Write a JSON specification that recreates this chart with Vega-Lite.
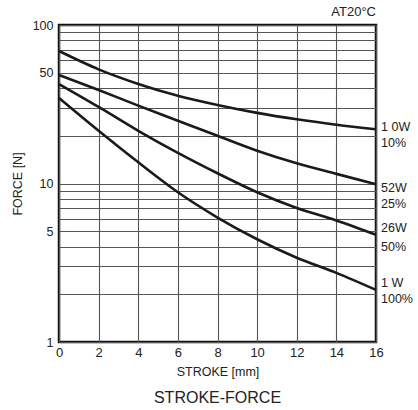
{
  "$schema": "https://vega.github.io/schema/vega-lite/v6.json",
  "width": 317,
  "height": 317,
  "autosize": "none",
  "padding": {"left": 59, "top": 25, "right": 42, "bottom": 68},
  "config": {
    "font": "Liberation Sans",
    "view": {"stroke": "#111", "strokeWidth": 2.5},
    "axis": {"labelColor": "#222", "titleColor": "#222", "labelFont": "Liberation Sans", "titleFont": "Liberation Sans", "titleFontWeight": "normal"}
  },
  "title": {"text": "STROKE-FORCE", "orient": "bottom", "anchor": "middle", "fontSize": 16, "fontWeight": "normal", "color": "#222", "offset": 12},
  "datasets": {
    "curves": [
      {"series": "10W", "stroke": 0, "force": 68.5},
      {"series": "10W", "stroke": 2, "force": 52.5},
      {"series": "10W", "stroke": 4, "force": 42.5},
      {"series": "10W", "stroke": 6, "force": 35.8},
      {"series": "10W", "stroke": 8, "force": 31.3},
      {"series": "10W", "stroke": 10, "force": 27.9},
      {"series": "10W", "stroke": 12, "force": 25.4},
      {"series": "10W", "stroke": 14, "force": 23.5},
      {"series": "10W", "stroke": 16, "force": 22.0},
      {"series": "52W", "stroke": 0, "force": 48.4},
      {"series": "52W", "stroke": 2, "force": 38.9},
      {"series": "52W", "stroke": 4, "force": 31.0},
      {"series": "52W", "stroke": 6, "force": 24.9},
      {"series": "52W", "stroke": 8, "force": 20.0},
      {"series": "52W", "stroke": 10, "force": 16.1},
      {"series": "52W", "stroke": 12, "force": 13.4},
      {"series": "52W", "stroke": 14, "force": 11.5},
      {"series": "52W", "stroke": 16, "force": 9.9},
      {"series": "26W", "stroke": 0, "force": 42.4},
      {"series": "26W", "stroke": 2, "force": 30.4},
      {"series": "26W", "stroke": 4, "force": 21.5},
      {"series": "26W", "stroke": 6, "force": 15.6},
      {"series": "26W", "stroke": 8, "force": 11.6},
      {"series": "26W", "stroke": 10, "force": 8.8},
      {"series": "26W", "stroke": 12, "force": 7.0},
      {"series": "26W", "stroke": 14, "force": 5.85},
      {"series": "26W", "stroke": 16, "force": 4.75},
      {"series": "13W", "stroke": 0, "force": 34.6},
      {"series": "13W", "stroke": 2, "force": 21.5},
      {"series": "13W", "stroke": 4, "force": 13.6},
      {"series": "13W", "stroke": 6, "force": 8.8},
      {"series": "13W", "stroke": 8, "force": 6.1},
      {"series": "13W", "stroke": 10, "force": 4.45},
      {"series": "13W", "stroke": 12, "force": 3.4},
      {"series": "13W", "stroke": 14, "force": 2.73},
      {"series": "13W", "stroke": 16, "force": 2.13}
    ],
    "labels": [
      {"label": "1 0W", "stroke": 16, "force": 22.56},
      {"label": "10%", "stroke": 16, "force": 18.0},
      {"label": "52W", "stroke": 16, "force": 9.37},
      {"label": "25%", "stroke": 16, "force": 7.45},
      {"label": "26W", "stroke": 16, "force": 5.24},
      {"label": "50%", "stroke": 16, "force": 3.97},
      {"label": "1 W", "stroke": 16, "force": 2.36},
      {"label": "100%", "stroke": 16, "force": 1.88}
    ],
    "note": [
      {"label": "AT20°C", "stroke": 16, "force": 100}
    ]
  },
  "encoding": {
    "x": {
      "field": "stroke", "type": "quantitative",
      "scale": {"domain": [0, 16], "nice": false},
      "axis": {
        "title": "STROKE [mm]", "values": [0, 2, 4, 6, 8, 10, 12, 14, 16],
        "labelOverlap": false, "labelFlush": false,
        "ticks": false, "domain": false, "grid": true, "gridColor": "#555", "gridWidth": 1.1, "gridOpacity": 1,
        "labelFontSize": 13, "labelPadding": 4, "titleFontSize": 12.5, "titlePadding": 6
      }
    },
    "y": {
      "field": "force", "type": "quantitative",
      "scale": {"type": "log", "domain": [1, 100], "nice": false},
      "axis": {
        "title": "FORCE [N]",
        "values": [1, 2, 3, 4, 5, 6, 7, 8, 9, 10, 20, 30, 40, 50, 60, 70, 80, 90, 100],
        "labelExpr": "indexof([1, 5, 10, 50, 100], datum.value) >= 0 ? '' + datum.value : ''",
        "labelOverlap": false, "labelFlush": false,
        "ticks": false, "domain": false, "grid": true, "gridColor": "#555", "gridWidth": 1.1, "gridOpacity": 1,
        "labelFontSize": 12.5, "labelPadding": 6, "titleFontSize": 12.5, "titlePadding": 8
      }
    }
  },
  "layer": [
    {
      "data": {"name": "curves"},
      "mark": {"type": "line", "interpolate": "monotone", "color": "#1a1a1a", "strokeWidth": 2.6},
      "encoding": {
        "detail": {"field": "series"}
      }
    },
    {
      "data": {"name": "labels"},
      "mark": {"type": "text", "align": "left", "baseline": "middle", "dx": 5, "fontSize": 12.5, "color": "#222", "clip": false},
      "encoding": {
        "text": {"field": "label"}
      }
    },
    {
      "data": {"name": "note"},
      "mark": {"type": "text", "align": "right", "baseline": "middle", "dy": -13, "fontSize": 13, "color": "#222", "clip": false},
      "encoding": {
        "text": {"field": "label"}
      }
    }
  ]
}
